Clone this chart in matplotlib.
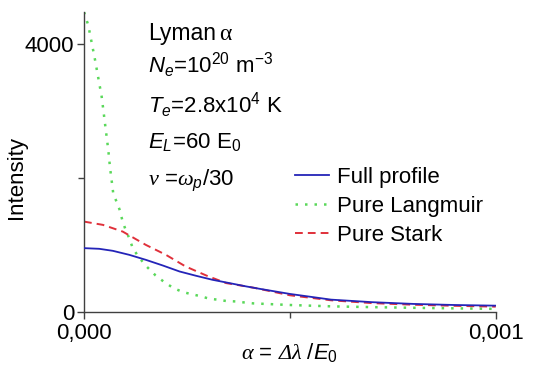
import numpy as np
import matplotlib
matplotlib.use("Agg")
import matplotlib.pyplot as plt

plt.rcParams['font.family'] = ['Liberation Sans', 'DejaVu Sans']
plt.rcParams['mathtext.fontset'] = 'custom'
plt.rcParams['mathtext.rm'] = 'Liberation Sans'
plt.rcParams['mathtext.it'] = 'Liberation Sans:italic'
plt.rcParams['mathtext.sf'] = 'Liberation Serif:italic'

# alpha in units of 1e-3
x_full = [0, .037, .070, .110, .150, .191, .232, .272, .312, .353, .394, .426,
          .5, .6, .7, .8, .9, 1.0]
full = [948, 938, 908, 848, 774, 690, 600, 536, 476, 427, 377, 342,
        265, 180, 142, 116, 100, 90]

x_stark = [0, .046, .094, .150, .199, .247, .297, .345, .394, .416,
           .5, .6, .7, .8, .9, 1.0]
stark = [1344, 1295, 1195, 997, 848, 674, 540, 427, 377, 353,
         245, 170, 128, 104, 88, 75]

x_lang = [0, .0104, .027, .043, .059, .063, .071, .086, .094, .102, .110, .119,
          .135, .152, .174, .195, .217, .240, .260, .281, .305, .325, .346,
          .369, .389, .411, .5, .6, .7, .8, .9, 1.0]
lang = [4470, 4271, 3750, 3204, 2411, 2162, 1766, 1530, 1344, 1205, 1096, 938,
        800, 674, 540, 442, 353, 293, 263, 234, 193, 179, 159,
        153, 138, 124, 100, 80, 68, 58, 50, 42]

fs = 16
fig = plt.figure(figsize=(5.35, 3.66), dpi=100)
ax = fig.add_axes([84/535, 1-311.7/366, 411.7/535, 299.7/366])

ax.plot(np.array(x_full)*1e-3, full, color='#2424b8', lw=1.3, label='Full profile', zorder=3)
ax.plot(np.array(x_lang)*1e-3, lang, color='#5ad85a', lw=1.8, ls=(0, (1, 2.8)),
        label='Pure Langmuir')
ax.plot(np.array(x_stark)*1e-3, stark, color='#e0303a', lw=1.4, ls=(0, (4, 2.6)),
        label='Pure Stark')

ax.set_xlim(0, 0.001)
ax.set_ylim(0, 4470)
for s in ['top', 'right']:
    ax.spines[s].set_visible(False)
for s in ['left', 'bottom']:
    ax.spines[s].set_color('#404040')
    ax.spines[s].set_linewidth(1.0)

ax.set_xticks([0, 0.001])
ax.set_xticklabels(['0,000', '0,001'])
ax.set_xticks([0.0005], minor=True)
ax.set_yticks([0, 4000])
ax.set_yticklabels(['0', '4000'])
ax.set_yticks([2000], minor=True)
ax.tick_params(which='both', direction='out', color='#404040', width=1.0, labelsize=fs)
ax.tick_params(which='major', length=5, pad=2)
ax.tick_params(axis='x', which='major', pad=3)
ax.tick_params(which='minor', length=4)

ax.set_xlabel(r'$\mathsf{\alpha}$ = $\mathsf{\Delta\lambda}$ /$E_0$', fontsize=fs, labelpad=-2)
ax.set_ylabel('Intensity', fontsize=fs)
ax.yaxis.set_label_coords(-0.138, 0.449)

# parameter block
tx = 148/535
fig.text(tx, 1-40/366, 'Lyman', fontsize=fs+0.5, va='baseline')
fig.text(219/535, 1-40/366, 'α', fontsize=fs+1, va='baseline', family='Liberation Serif')
fig.text(tx, 1-72.7/366, r'$N_e$=10$^{20}$ m$^{-3}$', fontsize=fs, va='baseline')
fig.text(tx, 1-113/366, r'$T_e$=2.8x10$^4$ K', fontsize=fs, va='baseline')
fig.text(tx, 1-148/366, r'$E_L$=60 E$_0$', fontsize=fs, va='baseline')
fig.text(tx, 1-185/366, r'$\mathsf{\nu}$ =$\mathsf{\omega}_p$/30', fontsize=fs, va='baseline')

ax.legend(loc='upper left', bbox_to_anchor=(295/535, 1-167/366),
          bbox_transform=fig.transFigure, frameon=False, fontsize=fs,
          handlelength=1.55, handletextpad=0.35, labelspacing=0.36,
          borderpad=0, borderaxespad=0)

fig.savefig('out.png', dpi=100)
